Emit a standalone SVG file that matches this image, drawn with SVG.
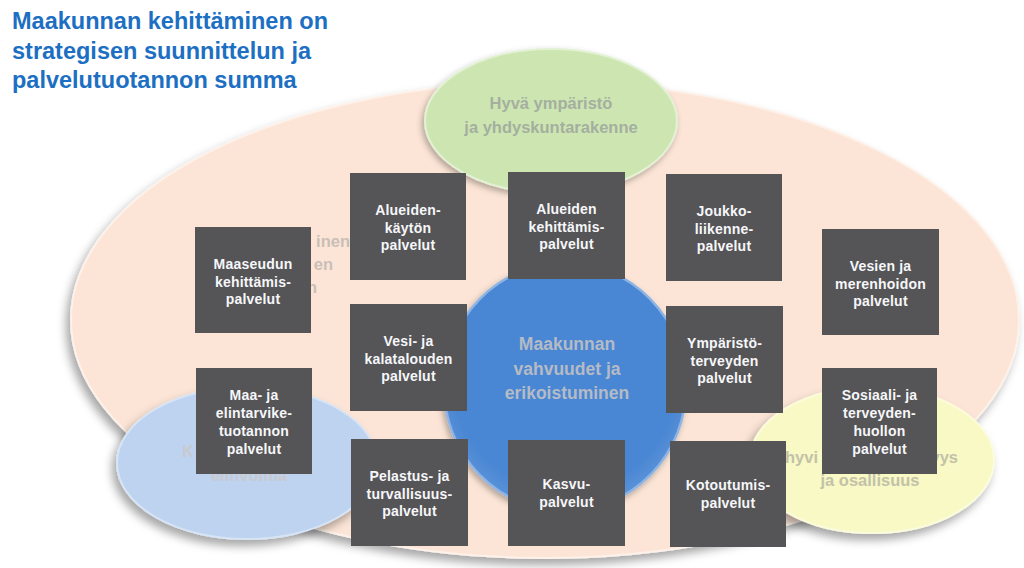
<svg xmlns="http://www.w3.org/2000/svg" width="1024" height="568" viewBox="0 0 1024 568">
<defs>
<filter id="sh" x="-20%" y="-20%" width="140%" height="150%">
<feDropShadow dx="-4" dy="6" stdDeviation="5" flood-color="#000" flood-opacity="0.35"/>
</filter>
<filter id="sh2" x="-20%" y="-20%" width="140%" height="150%">
<feDropShadow dx="-2" dy="3" stdDeviation="3" flood-color="#000" flood-opacity="0.3"/>
</filter>
<radialGradient id="cg" cx="0.5" cy="0.45" r="0.55">
<stop offset="0.85" stop-color="#4a86d3"/>
<stop offset="1" stop-color="#5b93d8"/>
</radialGradient>
</defs>
<style>
.title{font-family:"Liberation Sans",Arial,sans-serif;font-weight:bold;font-size:23.5px;fill:#1c6fc2}
.box{fill:#555456}
.bt{font-family:"Liberation Sans",Arial,sans-serif;font-weight:bold;font-size:14px;fill:#f6f7fa;text-anchor:middle;letter-spacing:0.2px}
.et{font-family:"Liberation Sans",Arial,sans-serif;font-weight:bold;font-size:16.5px}
</style>
<rect width="1024" height="568" fill="#ffffff"/>
<g id="title">
<text class="title" x="12" y="29">Maakunnan kehittäminen on</text>
<text class="title" x="12" y="58.5">strategisen suunnittelun ja</text>
<text class="title" x="12" y="88">palvelutuotannon summa</text>
</g>
<g id="ellipse-main">
<ellipse cx="545" cy="320" rx="474" ry="238" fill="#fce5d6" stroke="#fdf1e9" stroke-width="2" filter="url(#sh)"/>
<text class="et" x="350" y="247" fill="#c9bfb8" text-anchor="end">inen</text>
<text class="et" x="333" y="270" fill="#c9bfb8" text-anchor="end">en</text>
<text class="et" x="317" y="293" fill="#c9bfb8" text-anchor="end">n</text>
</g>
<g id="ellipse-green">
<ellipse cx="551" cy="121" rx="126" ry="72" fill="#cde6b1" stroke="#e3f1d4" stroke-width="2" filter="url(#sh2)"/>
<text class="et" x="551" y="109" fill="#a4afa0" text-anchor="middle">Hyvä ympäristö</text>
<text class="et" x="551" y="133" fill="#a4afa0" text-anchor="middle">ja yhdyskuntarakenne</text>
</g>
<g id="ellipse-blue">
<ellipse cx="247" cy="463" rx="130" ry="76" fill="#bdd3ef" stroke="#d6e4f6" stroke-width="2" filter="url(#sh)"/>
<text class="et" x="182" y="457" fill="#c9c9d0">K</text>
<text class="et" x="249" y="481" fill="#c9c9d0" text-anchor="middle">elinvoima</text>
</g>
<g id="ellipse-yellow">
<ellipse cx="872" cy="460" rx="122" ry="73" fill="#f8f9c4" stroke="#fbfcdc" stroke-width="2" filter="url(#sh)"/>
<text class="et" x="785" y="463" fill="#c3c2a9">hyvi</text>
<text class="et" x="958" y="463" fill="#c3c2a9" text-anchor="end">yys</text>
<text class="et" x="870" y="486" fill="#c3c2a9" text-anchor="middle">ja osallisuus</text>
</g>
<g id="center">
<ellipse cx="565" cy="387" rx="121" ry="124" fill="url(#cg)" stroke="#8db4e4" stroke-width="2.5" filter="url(#sh2)"/>
<text x="567" y="350" font-family="Liberation Sans,Arial,sans-serif" font-weight="bold" font-size="17.5" fill="#b5bbc6" text-anchor="middle">Maakunnan</text>
<text x="567" y="374.5" font-family="Liberation Sans,Arial,sans-serif" font-weight="bold" font-size="17.5" fill="#b5bbc6" text-anchor="middle">vahvuudet ja</text>
<text x="567" y="399" font-family="Liberation Sans,Arial,sans-serif" font-weight="bold" font-size="17.5" fill="#b5bbc6" text-anchor="middle">erikoistuminen</text>
</g>
<g id="connectors"></g>
<g id="b-alueidenkaytto">
<rect class="box" x="350" y="173" width="116" height="107"/>
<text class="bt" x="408" y="215">Alueiden-</text>
<text class="bt" x="408" y="232.5">käytön</text>
<text class="bt" x="408" y="250">palvelut</text>
</g>
<g id="b-alueidenkehittamis">
<rect class="box" x="508" y="172" width="117" height="107"/>
<text class="bt" x="566.5" y="214">Alueiden</text>
<text class="bt" x="566.5" y="231.5">kehittämis-</text>
<text class="bt" x="566.5" y="249">palvelut</text>
</g>
<g id="b-joukkoliikenne">
<rect class="box" x="666" y="174" width="116" height="107"/>
<text class="bt" x="724" y="216">Joukko-</text>
<text class="bt" x="724" y="233.5">liikenne-</text>
<text class="bt" x="724" y="251">palvelut</text>
</g>
<g id="b-maaseutu">
<rect class="box" x="195" y="227" width="116" height="106"/>
<text class="bt" x="253" y="269">Maaseudun</text>
<text class="bt" x="253" y="286.5">kehittämis-</text>
<text class="bt" x="253" y="304">palvelut</text>
</g>
<g id="b-vesien">
<rect class="box" x="822" y="229" width="117" height="106"/>
<text class="bt" x="880.5" y="271">Vesien ja</text>
<text class="bt" x="880.5" y="288.5">merenhoidon</text>
<text class="bt" x="880.5" y="306">palvelut</text>
</g>
<g id="b-vesikala">
<rect class="box" x="350" y="304" width="117" height="107"/>
<text class="bt" x="408.5" y="346">Vesi- ja</text>
<text class="bt" x="408.5" y="363.5">kalatalouden</text>
<text class="bt" x="408.5" y="381">palvelut</text>
</g>
<g id="b-ymparisto">
<rect class="box" x="666" y="306" width="117" height="107"/>
<text class="bt" x="724.5" y="348">Ympäristö-</text>
<text class="bt" x="724.5" y="365.5">terveyden</text>
<text class="bt" x="724.5" y="383">palvelut</text>
</g>
<g id="b-maaelintarvike">
<rect class="box" x="196" y="368" width="116" height="106"/>
<text class="bt" x="254" y="400">Maa- ja</text>
<text class="bt" x="254" y="418">elintarvike-</text>
<text class="bt" x="254" y="436">tuotannon</text>
<text class="bt" x="254" y="454">palvelut</text>
</g>
<g id="b-sosiaali">
<rect class="box" x="822" y="368" width="115" height="106"/>
<text class="bt" x="879.5" y="400">Sosiaali- ja</text>
<text class="bt" x="879.5" y="418">terveyden-</text>
<text class="bt" x="879.5" y="436">huollon</text>
<text class="bt" x="879.5" y="454">palvelut</text>
</g>
<g id="b-pelastus">
<rect class="box" x="351" y="439" width="117" height="107"/>
<text class="bt" x="409.5" y="481">Pelastus- ja</text>
<text class="bt" x="409.5" y="498.5">turvallisuus-</text>
<text class="bt" x="409.5" y="516">palvelut</text>
</g>
<g id="b-kasvu">
<rect class="box" x="508" y="440" width="117" height="106"/>
<text class="bt" x="566.5" y="489">Kasvu-</text>
<text class="bt" x="566.5" y="507">palvelut</text>
</g>
<g id="b-kotoutumis">
<rect class="box" x="670" y="441" width="116" height="106"/>
<text class="bt" x="728" y="490">Kotoutumis-</text>
<text class="bt" x="728" y="508">palvelut</text>
</g>
</svg>
